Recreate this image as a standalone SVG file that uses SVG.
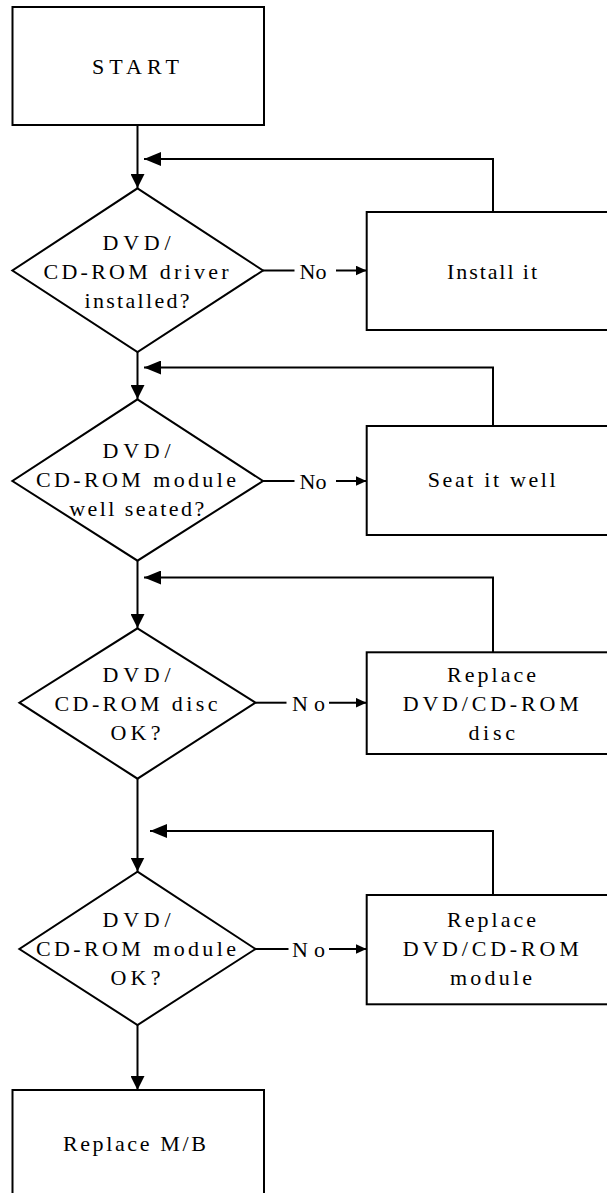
<svg xmlns="http://www.w3.org/2000/svg" width="607" height="1193" viewBox="0 0 607 1193">
<style>
.n{fill:#fff;stroke:#000;stroke-width:2}
.c{fill:none;stroke:#000;stroke-width:2}
text{font-family:"Liberation Serif","Times New Roman",serif;font-size:22px;fill:#000;text-anchor:middle}
</style>
<defs>
<marker id="av" markerUnits="userSpaceOnUse" markerWidth="14" markerHeight="14" refX="14" refY="7" orient="auto"><path d="M0,0 L14,7 L0,14 z" fill="#000"/></marker>
<marker id="af" markerUnits="userSpaceOnUse" markerWidth="17" markerHeight="14" refX="17" refY="7" orient="auto"><path d="M0,0 L17,7 L0,14 z" fill="#000"/></marker>
<marker id="as" markerUnits="userSpaceOnUse" markerWidth="11" markerHeight="10" refX="11" refY="5" orient="auto"><path d="M0,0 L11,5 L0,10 z" fill="#000"/></marker>
</defs>
<g id="connectors">
<path class="c" d="M137.5,125 V188" marker-end="url(#av)"/>
<path class="c" d="M137.5,352 V399" marker-end="url(#av)"/>
<path class="c" d="M137.5,561 V628" marker-end="url(#av)"/>
<path class="c" d="M137.5,779 V871.5" marker-end="url(#av)"/>
<path class="c" d="M137.5,1025 V1090" marker-end="url(#av)"/>
<path class="c" d="M493,212 V159 H144" marker-end="url(#af)"/>
<path class="c" d="M493,426 V367.5 H144" marker-end="url(#af)"/>
<path class="c" d="M493,652 V577.5 H144" marker-end="url(#af)"/>
<path class="c" d="M493,895 V831 H150" marker-end="url(#af)"/>
<path class="c" d="M263,270.5 H294.5"/>
<path class="c" d="M336,270.5 H366.5" marker-end="url(#as)"/>
<text x="313" y="279">No</text>
<path class="c" d="M263,481 H294.5"/>
<path class="c" d="M336,481 H366.5" marker-end="url(#as)"/>
<text x="313" y="489">No</text>
<path class="c" d="M255.5,702.7 H286.5"/>
<path class="c" d="M329,702.7 H366.5" marker-end="url(#as)"/>
<text x="308.5" y="711" textLength="33" lengthAdjust="spacing">No</text>
<path class="c" d="M255.5,949 H288.5"/>
<path class="c" d="M329,949 H366.5" marker-end="url(#as)"/>
<text x="308.5" y="957" textLength="33" lengthAdjust="spacing">No</text>
</g>
<g id="start">
<rect class="n" x="12.5" y="7" width="251.5" height="118"/>
<text x="135.5" y="74" textLength="87" lengthAdjust="spacing">START</text>
</g>
<g id="q1">
<path class="n" d="M137.5,188.3 L263,270.5 L137.5,352 L12.4,270.5 Z"/>
<text x="136.5" y="250" textLength="68" lengthAdjust="spacing">DVD/</text>
<text x="136" y="279.3" textLength="185" lengthAdjust="spacing">CD-ROM driver</text>
<text x="137" y="308.3" textLength="105" lengthAdjust="spacing">installed?</text>
</g>
<g id="install">
<rect class="n" x="366.7" y="212" width="260" height="118"/>
<text x="492" y="279.3" textLength="90" lengthAdjust="spacing">Install it</text>
</g>
<g id="q2">
<path class="n" d="M137.5,399.3 L263,481 L137.5,560.7 L12.4,481 Z"/>
<text x="136.5" y="458.3" textLength="68" lengthAdjust="spacing">DVD/</text>
<text x="136" y="486.7" textLength="200" lengthAdjust="spacing">CD-ROM module</text>
<text x="136.7" y="515.7" textLength="135" lengthAdjust="spacing">well seated?</text>
</g>
<g id="seat">
<rect class="n" x="366.7" y="426" width="260" height="109"/>
<text x="491.7" y="486.7" textLength="128" lengthAdjust="spacing">Seat it well</text>
</g>
<g id="q3">
<path class="n" d="M137.5,628.3 L255.5,702.7 L137.5,778.7 L19.4,702.7 Z"/>
<text x="136.5" y="682.3" textLength="68" lengthAdjust="spacing">DVD/</text>
<text x="136" y="711" textLength="163" lengthAdjust="spacing">CD-ROM disc</text>
<text x="135.4" y="740" textLength="50" lengthAdjust="spacing">OK?</text>
</g>
<g id="disc">
<rect class="n" x="366.7" y="652.3" width="260" height="101.7"/>
<text x="491.5" y="682.3" textLength="89" lengthAdjust="spacing">Replace</text>
<text x="490.7" y="711" textLength="176" lengthAdjust="spacing">DVD/CD-ROM</text>
<text x="491.7" y="740" textLength="46.6" lengthAdjust="spacing">disc</text>
</g>
<g id="q4">
<path class="n" d="M137.5,871.7 L255.5,949 L137.5,1025 L19.4,949 Z"/>
<text x="136.5" y="926.7" textLength="68" lengthAdjust="spacing">DVD/</text>
<text x="136" y="956" textLength="200" lengthAdjust="spacing">CD-ROM module</text>
<text x="135.4" y="985" textLength="50" lengthAdjust="spacing">OK?</text>
</g>
<g id="module">
<rect class="n" x="366.7" y="895" width="260" height="109.3"/>
<text x="491.5" y="926.7" textLength="89" lengthAdjust="spacing">Replace</text>
<text x="490.7" y="956" textLength="176" lengthAdjust="spacing">DVD/CD-ROM</text>
<text x="491" y="985" textLength="82" lengthAdjust="spacing">module</text>
</g>
<g id="mb">
<rect class="n" x="12.5" y="1090" width="251.5" height="120"/>
<text x="134.4" y="1150.7" textLength="143" lengthAdjust="spacing">Replace M/B</text>
</g>
</svg>
